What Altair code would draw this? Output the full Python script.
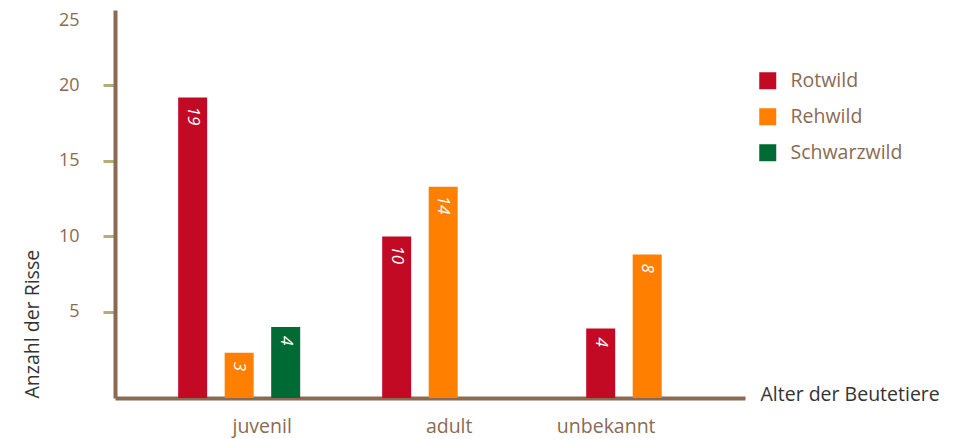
import altair as alt
import pandas as pd

# ---- data ----
age_groups = ["juvenil", "adult", "unbekannt"]
species = ["Rotwild", "Rehwild", "Schwarzwild"]
species_colors = ["#c20a24", "#ff8000", "#006a35"]

bar_age = ["juvenil", "juvenil", "juvenil", "adult", "adult", "unbekannt", "unbekannt"]
bar_species = ["Rotwild", "Rehwild", "Schwarzwild", "Rotwild", "Rehwild", "Rotwild", "Rehwild"]
bar_height = [19.2, 2.3, 4.0, 10.0, 13.3, 3.9, 8.8]
bar_label = ["19", "3", "4", "10", "14", "4", "8"]

y_ticks = [5, 10, 15, 20, 25]
Y_MIN, Y_MAX = -0.7, 25

df = pd.DataFrame({
    "Alter": bar_age,
    "Art": bar_species,
    "Anzahl": bar_height,
    "Label": bar_label,
})

BROWN = "#8b6a52"
OLIVE = "#b5ad78"
DARK = "#333333"
FONT = "Open Sans"

x_enc = alt.X(
    "Alter:N",
    sort=age_groups,
    scale=alt.Scale(domain=age_groups, paddingInner=0.316, paddingOuter=0.202, align=0.66),
    axis=alt.Axis(
        title="Alter der Beutetiere",
        titleX=645, titleY=-4, titleAlign="left", titleBaseline="middle",
        titleAngle=0, titleColor=DARK, titleFontSize=19.5, titleFontWeight="normal",
        titleFont=FONT,
        labelAngle=0, labelColor=BROWN, labelFontSize=19.5, labelFont=FONT,
        labelPadding=19,
        labelOffset={"expr": "datum.value == 'juvenil' ? 23 : (datum.value == 'unbekannt' ? -41 : 6)"},
        ticks=False, domainColor=BROWN, domainWidth=4,
        grid=False,
    ),
)
xoff_enc = alt.XOffset(
    "Art:N",
    sort=species,
    scale=alt.Scale(domain=species, paddingInner=0.376, paddingOuter=0.188),
)
y_enc = alt.Y(
    "Anzahl:Q",
    scale=alt.Scale(domain=[Y_MIN, Y_MAX], zero=False, nice=False),
    axis=alt.Axis(
        values=y_ticks,
        title="Anzahl der Risse",
        titleX=-83, titleY=388, titleAngle=270, titleAlign="left", titleBaseline="middle",
        titleColor=DARK, titleFontSize=19.5, titleFontWeight="normal", titleFont=FONT,
        labelColor=BROWN, labelFontSize=18, labelFont=FONT, labelPadding=24,
        labelOffset={"condition": {"test": "datum.value == 25", "value": 10}, "value": 0},
        tickColor=OLIVE, tickWidth=3, tickSize=12,
        tickOpacity={"condition": {"test": "datum.value == 25", "value": 0}, "value": 1},
        domainColor=BROWN, domainWidth=4, grid=False,
    ),
)

color_enc = alt.Color(
    "Art:N",
    sort=species,
    scale=alt.Scale(domain=species, range=species_colors),
    legend=alt.Legend(
        title=None, orient="none", legendX=643, legendY=61,
        symbolType="square", symbolSize=289, symbolStrokeWidth=0, symbolOpacity=1,
        labelColor=BROWN, labelFontSize=19.5, labelFont=FONT, labelOffset=13,
        rowPadding=15,
    ),
)

base = alt.Chart(df)

bars = base.mark_bar(size=29).encode(
    x=x_enc,
    xOffset=xoff_enc,
    y=y_enc,
    y2=alt.datum(Y_MIN),
    color=color_enc,
)

labels = base.mark_text(
    angle=90, align="left", baseline="middle", dx=9,
    color="white", fontSize=17, font=FONT, fontStyle="italic",
).encode(
    x=alt.X("Alter:N", sort=age_groups),
    xOffset=alt.XOffset("Art:N", sort=species),
    y=alt.Y("Anzahl:Q"),
    text="Label:N",
)

chart = alt.layer(bars, labels).properties(
    width=630,
    height=388,
    autosize=alt.AutoSizeParams(type="none"),
    padding={"left": 107, "top": 2, "right": 207, "bottom": 42},
    background="white",
).configure(font=FONT).configure_view(stroke=None)

chart.save("out.html", embed_options={"renderer": "svg", "actions": False})
